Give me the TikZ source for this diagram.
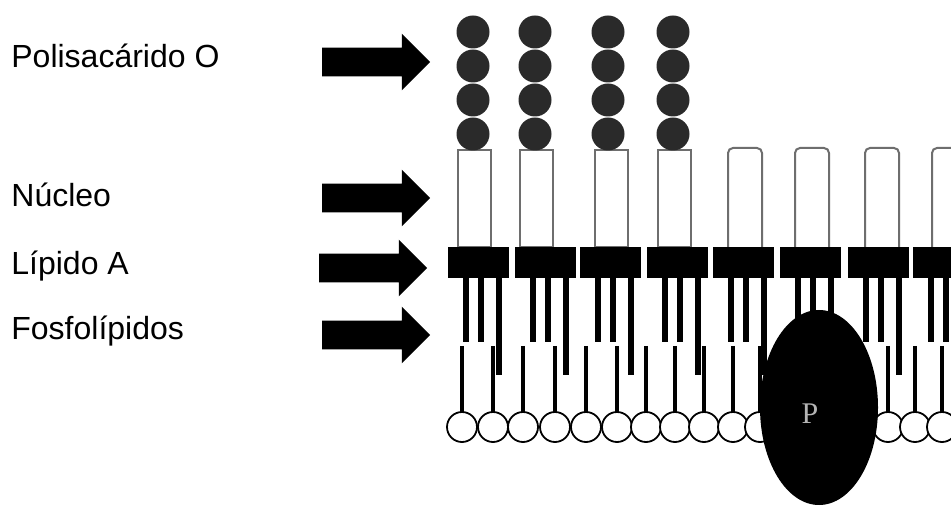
\documentclass[tikz,border=0pt]{standalone}
\usepackage{fontspec}
\setmainfont{Liberation Sans}
\newfontfamily\protfont{Liberation Serif}
\usepackage{tikz}
\usetikzlibrary{shapes.arrows}

\definecolor{chain}{HTML}{2A2A2A}
\definecolor{coreline}{HTML}{6E6E6E}
\definecolor{plabel}{HTML}{B4B4B4}

\begin{document}
\begin{tikzpicture}[x=0.5pt,y=-0.5pt,
    lbl/.style={anchor=base west,inner sep=0pt,font=\fontsize{16}{19}\selectfont},
    fat/.style={single arrow,fill=black,inner sep=0pt,inner ysep=7pt,minimum height=54pt,single arrow head extend=7pt},
    tail/.style={line width=2.6pt},
    phostail/.style={line width=2.3pt},
    corebox/.style={draw=coreline,line width=1pt,fill=white}]
          \clip (0,0) rectangle (951,506);
          \fill[white] (0,0) rectangle (951,506);

          % labels and the arrows pointing at each layer
          \node[lbl] (lblO) at (11,68) {Polisacárido O};
          \node[lbl] (lblCore) at (11,207) {Núcleo};
          \node[lbl] (lblLipA) at (11,275) {Lípido A};
          \node[lbl] (lblPhos) at (11,340) {Fosfolípidos};
          \node[fat] (arrO) at (369,62) {};
          \node[fat] (arrCore) at (369,198) {};
          \node[fat] (arrLipA) at (366,268) {};
          \node[fat] (arrPhos) at (369,335) {};

          % cores carrying an O chain
          \foreach \cx/\ox in {474/473,536/535,611/608,674/673} {
            \draw[corebox] (\cx-16.5,150) rectangle (\cx+16.5,247);
            \foreach \oy in {32,66,100,134}
              \fill[chain] (\ox,\oy) circle[radius=16.5];
          }
          % bare cores
          \foreach \cx in {745,812,882,949}
            \draw[corebox,rounded corners=2.5pt] (\cx-17,247) -- (\cx-17,148) -- (\cx+17,148) -- (\cx+17,247);

          % phospholipids
          \foreach \px in {462,493,523,555,586,617,646,675,704,733,760,790,820,850,888,915,942} {
            \draw[phostail] (\px,346) -- (\px,412);
            \draw[line width=0.9pt,fill=white] (\px,427) circle[radius=15];
          }

          % lipid A with its chains
          \foreach \bx in {448,515,580,647,713,780,848,913} {
            \fill (\bx,247) rectangle ++(61,31);
            \draw[tail] (\bx+18,278) -- (\bx+18,342);
            \draw[tail] (\bx+33,278) -- (\bx+33,342);
            \draw[tail] (\bx+51,278) -- (\bx+51,375);
          }

          % porin
          \fill (819,407.5) ellipse[x radius=59,y radius=97.5];
          \node[text=plabel,font=\protfont\fontsize{15}{17}\selectfont,inner sep=0pt] (prot) at (810,414) {P};
        \end{tikzpicture}
\end{document}
